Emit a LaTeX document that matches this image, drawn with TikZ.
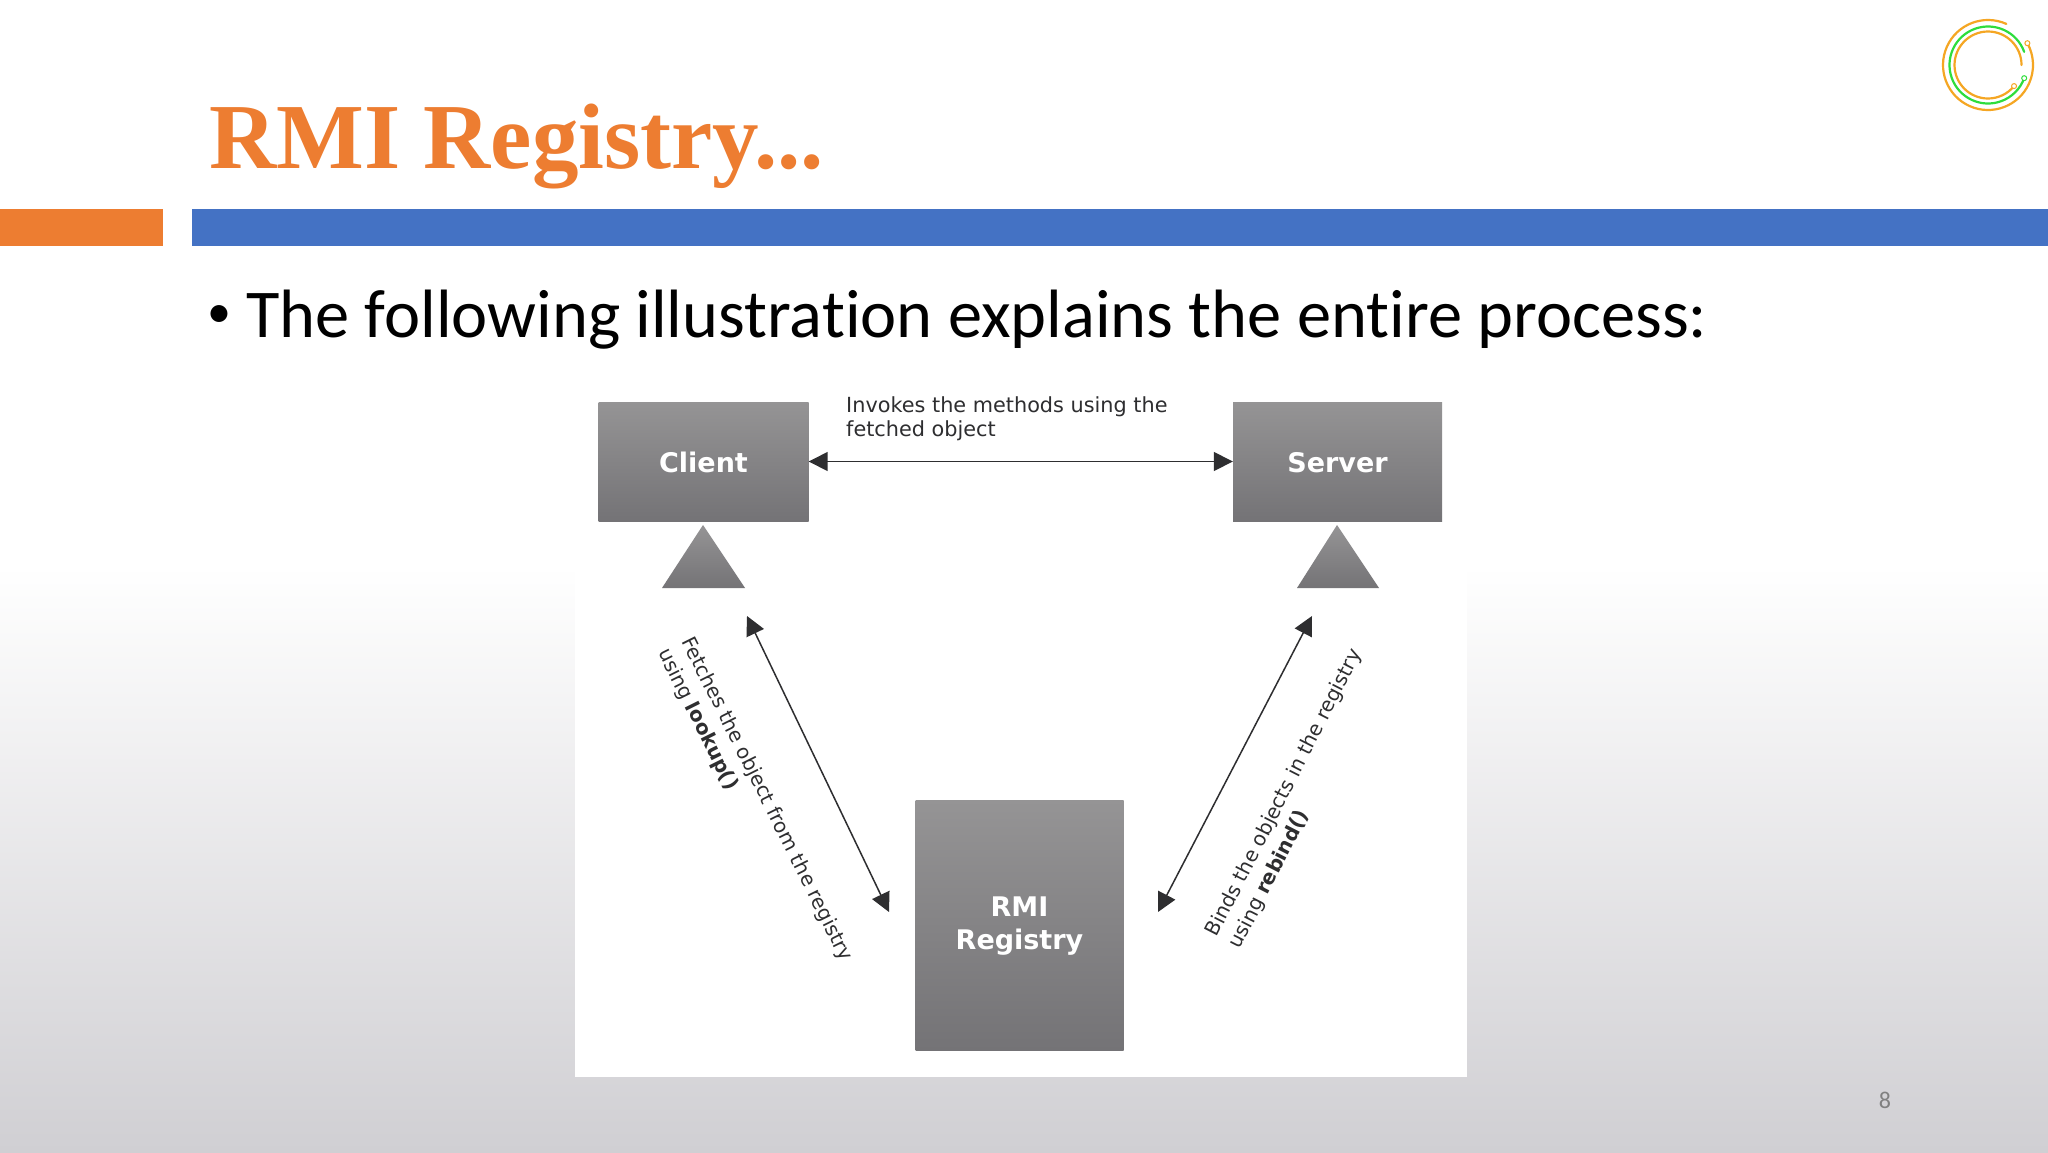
\documentclass[tikz,border=0pt]{standalone}
\usepackage{fontspec}
\setmainfont{Carlito}[Ligatures=NoCommon]
\newfontfamily\titlefont{Liberation Serif}
\newfontfamily\diagfont{DejaVu Sans}
\usetikzlibrary{arrows.meta}
\definecolor{accent}{HTML}{ED7D31}
\definecolor{barblue}{HTML}{4472C4}
\definecolor{slidegray}{HTML}{D0CFD3}
\definecolor{boxtop}{HTML}{959495}
\definecolor{boxbottom}{HTML}{747376}
\definecolor{inkgray}{HTML}{2E2E30}
\definecolor{logoorange}{HTML}{F5A623}
\definecolor{logogreen}{HTML}{2EDD3C}
\tikzset{
  graybox/.style={inner sep=0pt,top color=boxtop,bottom color=boxbottom,draw=none},
  boxlabel/.style={inner sep=0pt,text=white,align=center,font=\diagfont\fontsize{27}{33}\selectfont\bfseries},
  grayshape/.style={top color=boxtop,bottom color=boxbottom,draw=none},
  twoway/.style={draw=inkgray,line width=1.5pt,{Triangle[length=19pt,width=19pt]}-{Triangle[length=19pt,width=19pt]}},
  caption/.style={inner sep=0pt,align=left,text=inkgray,font=\diagfont\fontsize{20.8}{24}\selectfont},
  slanted caption/.style={inner sep=0pt,align=left,text=inkgray,font=\diagfont\fontsize{20}{26}\selectfont},
  logoarc/.style={line width=2.2pt,line cap=round},
}
\begin{document}
\begin{tikzpicture}[x=1pt,y=-1pt]
\useasboundingbox (0,0) rectangle (2048,1152);
\fill[white] (0,0) rectangle (2048,565);
\shade[top color=white,bottom color=slidegray] (0,565) rectangle (2048,1152);
\fill[accent] (0,209) rectangle (163,246);
\fill[barblue] (192,209) rectangle (2048,246);
\node[anchor=base west,inner sep=0pt,text=accent,font=\titlefont\fontsize{93}{100}\selectfont\bfseries] (title) at (209,168) {RMI Registry...};
\node[anchor=base west,inner sep=0pt,font=\fontsize{48}{52}\selectfont] (bullet) at (207,327) {•};
\node[anchor=base west,inner sep=0pt,font=\fontsize{68.4}{74}\selectfont] (body) at (246,337) {The following illustration explains the entire process:};
\fill[white] (575,370) rectangle (1467,1077);
\node[graybox,minimum width=210pt,minimum height=119pt] (client) at (703.5,461.5) {};
\node[boxlabel] (clientlabel) at (703.5,462.5) {Client};
\node[graybox,minimum width=209pt,minimum height=119pt] (server) at (1337.5,461.5) {};
\node[boxlabel] (serverlabel) at (1337.5,462.5) {Server};
\node[graybox,minimum width=208pt,minimum height=250pt] (registry) at (1019.5,925) {};
\node[boxlabel] (registrylabel) at (1019.5,926) {RMI\\Registry};
\shade[grayshape] (703,525) -- (745,588) -- (662,588) -- cycle;
\shade[grayshape] (1337,525) -- (1379,588) -- (1297,588) -- cycle;
\coordinate (lefttop) at (747,616);
\coordinate (leftbottom) at (889,912);
\coordinate (righttop) at (1312,616);
\coordinate (rightbottom) at (1158,912);
\draw[twoway] (client.east) -- (server.west);
\draw[twoway] (lefttop) -- (leftbottom);
\draw[twoway] (righttop) -- (rightbottom);
\node[caption,anchor=north west] (invokes) at (846,396) {Invokes the methods using the\\fetched object};
\node[slanted caption,anchor=north west,rotate=-63.5] (fetches) at (695,634) {Fetches the object from the registry\\using \textbf{lookup()}};
\node[slanted caption,anchor=north west,rotate=63] (binds) at (1203,931) {Binds the objects in the registry\\using \textbf{rebind()}};
\node[inner sep=0pt,text=gray,font=\fontsize{24}{28}\selectfont] (page) at (1885,1100) {8};
\begin{scope}[shift={(1988,65)},x=1pt,y=1pt]
\draw[logoarc,logoorange] (66:45) arc[start angle=66,end angle=389,radius=45];
\draw[logoarc,logogreen] (20:38.5) arc[start angle=20,end angle=340,radius=38.5];
\draw[logoarc,logoorange] (0:33.5) arc[start angle=0,end angle=321,radius=33.5];
\draw[logoorange,line width=1pt,fill=white] (29:45) circle[radius=2.5];
\draw[logogreen,line width=1pt,fill=white] (340:38.5) circle[radius=2.5];
\draw[logoorange,line width=1pt,fill=white] (321:33.5) circle[radius=2.5];
\end{scope}
\end{tikzpicture}
\end{document}
